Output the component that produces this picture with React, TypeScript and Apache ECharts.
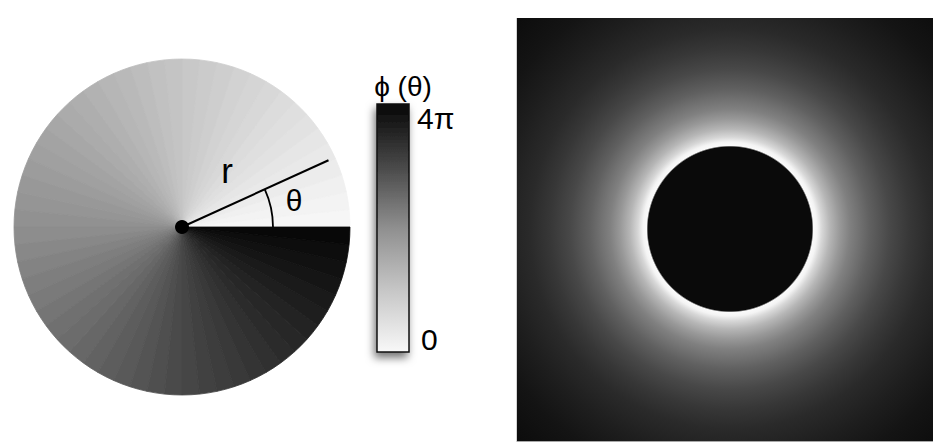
import React, { useEffect, useRef } from "react";
import * as echarts from "echarts";

// Spiral phase plate: phase of each angular sector (in units of π), counter-clockwise from θ = 0
const slicePhase = [
  0.033, 0.1, 0.167, 0.233, 0.3, 0.367, 0.433, 0.5, 0.567, 0.633,
  0.7, 0.767, 0.833, 0.9, 0.967, 1.033, 1.1, 1.167, 1.233, 1.3,
  1.367, 1.433, 1.5, 1.567, 1.633, 1.7, 1.767, 1.833, 1.9, 1.967,
  2.033, 2.1, 2.167, 2.233, 2.3, 2.367, 2.433, 2.5, 2.567, 2.633,
  2.7, 2.767, 2.833, 2.9, 2.967, 3.033, 3.1, 3.167, 3.233, 3.3,
  3.367, 3.433, 3.5, 3.567, 3.633, 3.7, 3.767, 3.833, 3.9, 3.967,
];

// Colour map phase (π units) -> grey level
const cmapPhase = [0, 1, 2, 3, 4];
const cmapGray = [248, 198, 143, 72, 6];

// Colour bar tick labels
const colorbarTicks = ["0", "4π"];
const colorbarTitle = "ϕ (θ)";

// Donut beam radial intensity profile (radius in px-units, grey intensity)
const profileR = [0, 82, 83.5, 87, 92, 100, 110, 120, 140, 160, 180, 200, 230, 260, 300];
const profileI = [10, 10, 250, 244, 215, 182, 152, 128, 96, 72, 55, 42, 30, 20, 12];

const beamCenter = [[0, 0]];

function grayAt(p: number): string {
  let g = cmapGray[cmapGray.length - 1];
  for (let i = 0; i < cmapPhase.length - 1; i++) {
    if (p >= cmapPhase[i] && p <= cmapPhase[i + 1]) {
      const t = (p - cmapPhase[i]) / (cmapPhase[i + 1] - cmapPhase[i]);
      g = cmapGray[i] + t * (cmapGray[i + 1] - cmapGray[i]);
      break;
    }
  }
  const v = Math.round(g);
  return `rgb(${v},${v},${v})`;
}

function grayOf(v: number): string {
  const r = Math.round(v);
  return `rgb(${r},${r},${r})`;
}

const FONT = "'Liberation Sans', Arial, Helvetica, sans-serif";

export default function App() {
  const ref = useRef<HTMLDivElement>(null);

  useEffect(() => {
    if (!ref.current) return;
    const chart = echarts.init(ref.current, null, { renderer: "svg" });

    const cx = 182;
    const cy = 227;
    const rad = 168;
    const lineAngle = (24.5 * Math.PI) / 180;
    const lineLen = 161;

    const outerR = profileR[profileR.length - 1];
    const beamStops = profileR.map((r, i) => ({
      offset: r / outerR,
      color: grayOf(profileI[i]),
    }));

    const barStops = cmapPhase
      .map((p, i) => ({ offset: 1 - p / 4, color: grayOf(cmapGray[i]) }))
      .sort((a, b) => a.offset - b.offset);

    const Z = 100;

    const option: any = {
      animation: false,
      backgroundColor: "#ffffff",
      grid: {
        left: 517,
        right: 0,
        top: 18,
        bottom: 5,
        show: true,
        backgroundColor: "#0c0c0c",
        borderWidth: 0,
      },
      xAxis: { type: "value", min: -213, max: 203, show: false },
      yAxis: { type: "value", min: -212, max: 211, show: false },
      series: [
        {
          type: "pie",
          center: [cx, cy],
          radius: rad,
          startAngle: 0,
          clockwise: false,
          silent: true,
          label: { show: false },
          labelLine: { show: false },
          emphasis: { disabled: true },
          data: slicePhase.map((p, i) => {
            const c = grayAt(p);
            return {
              name: "s" + i,
              value: 1,
              itemStyle: { color: c, borderColor: c, borderWidth: 0.8 },
            };
          }),
        },
        {
          type: "custom",
          xAxisIndex: 0,
          yAxisIndex: 0,
          clip: true,
          silent: true,
          data: beamCenter,
          renderItem: (params: any, api: any) => {
            const c = api.coord([api.value(0), api.value(1)]);
            const r = api.size([outerR, 0])[0];
            return {
              type: "circle",
              shape: { cx: c[0], cy: c[1], r },
              style: {
                fill: new echarts.graphic.RadialGradient(0.5, 0.5, 0.5, beamStops),
              },
            };
          },
        },
      ],
      graphic: [
        {
          type: "line",
          silent: true,
          z: Z,
          shape: { x1: 516.5, y1: 18, x2: 516.5, y2: 442 },
          style: { stroke: "#d4d4d4", lineWidth: 1 },
        },
        {
          type: "line",
          silent: true,
          z: Z,
          shape: { x1: 517, y1: 441.5, x2: 933, y2: 441.5 },
          style: { stroke: "#a8a8a8", lineWidth: 1 },
        },
        {
          type: "line",
          silent: true,
          z: Z,
          shape: {
            x1: cx,
            y1: cy,
            x2: cx + lineLen * Math.cos(lineAngle),
            y2: cy - lineLen * Math.sin(lineAngle),
          },
          style: { stroke: "#000", lineWidth: 2 },
        },
        {
          type: "arc",
          silent: true,
          z: Z,
          shape: { cx, cy, r: 91, startAngle: -lineAngle, endAngle: 0, clockwise: true },
          style: { stroke: "#000", lineWidth: 1.8, fill: "none" },
        },
        {
          type: "circle",
          silent: true,
          z: Z,
          shape: { cx, cy, r: 7 },
          style: { fill: "#000" },
        },
        {
          type: "text",
          silent: true,
          z: Z,
          x: 227,
          y: 170,
          style: {
            text: "r",
            font: `35px ${FONT}`,
            fill: "#000",
            align: "center",
            verticalAlign: "middle",
          },
        },
        {
          type: "text",
          silent: true,
          z: Z,
          x: 294,
          y: 200,
          style: {
            text: "θ",
            font: `30px ${FONT}`,
            fill: "#000",
            align: "center",
            verticalAlign: "middle",
          },
        },
        {
          type: "rect",
          silent: true,
          z: Z,
          shape: { x: 377, y: 104, width: 32, height: 248 },
          style: {
            fill: new echarts.graphic.LinearGradient(0, 0, 0, 1, barStops),
            stroke: "#111",
            lineWidth: 1.5,
            shadowBlur: 8,
            shadowColor: "rgba(0,0,0,0.55)",
            shadowOffsetX: -2,
            shadowOffsetY: 5,
          },
        },
        {
          type: "text",
          silent: true,
          z: Z,
          x: 403,
          y: 86,
          style: {
            text: colorbarTitle,
            font: `28px ${FONT}`,
            fill: "#000",
            align: "center",
            verticalAlign: "middle",
          },
        },
        {
          type: "text",
          silent: true,
          z: Z,
          x: 417,
          y: 118,
          style: {
            text: colorbarTicks[1],
            font: `30px ${FONT}`,
            fill: "#000",
            align: "left",
            verticalAlign: "middle",
          },
        },
        {
          type: "text",
          silent: true,
          z: Z,
          x: 421,
          y: 339,
          style: {
            text: colorbarTicks[0],
            font: `30px ${FONT}`,
            fill: "#000",
            align: "left",
            verticalAlign: "middle",
          },
        },
      ],
    };

    chart.setOption(option);
    return () => chart.dispose();
  }, []);

  return (
    <div
      ref={ref}
      style={{ position: "absolute", left: 0, top: 0, width: 933, height: 446 }}
    />
  );
}
